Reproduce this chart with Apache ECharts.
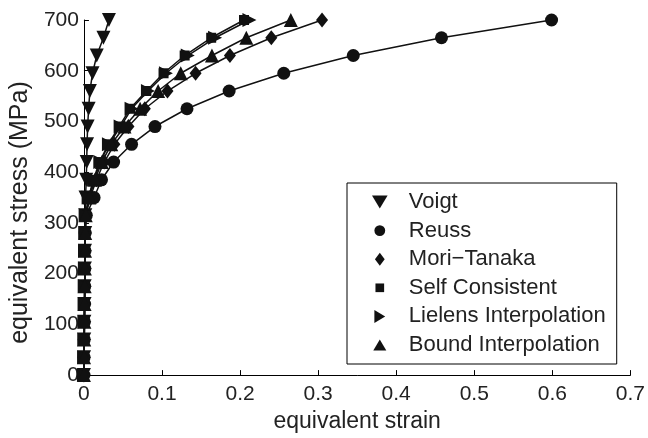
<!DOCTYPE html>
<html>
<head>
<meta charset="utf-8">
<script src="https://cdn.jsdelivr.net/npm/echarts@6/dist/echarts.min.js"></script>
<style>
  html, body { margin: 0; padding: 0; background: #fff; }
  #chart { width: 648px; height: 438px; }
</style>
</head>
<body>
<div id="chart"></div>
<script>
// stress levels (MPa), shared by every model
const stress = [0, 35, 70, 105, 140, 175, 210, 245, 280, 315, 350, 385, 420, 455, 490, 525, 560, 595, 630, 665, 700]

// equivalent strain for each model
const voigt = [0, 0.0002, 0.0004, 0.0006, 0.0008, 0.001, 0.0012, 0.0014, 0.0016, 0.0018, 0.002, 0.003, 0.0035, 0.004, 0.0047, 0.006, 0.0076, 0.011, 0.0164, 0.025, 0.032]
const reuss = [0, 0.0002, 0.0004, 0.0006, 0.0008, 0.001, 0.0012, 0.0014, 0.0016, 0.003, 0.013, 0.0225, 0.038, 0.061, 0.091, 0.132, 0.186, 0.256, 0.345, 0.458, 0.599]
const moriTanaka = [0, 0.0002, 0.0004, 0.0006, 0.0008, 0.001, 0.0012, 0.0014, 0.0016, 0.0025, 0.008, 0.016, 0.026, 0.039, 0.057, 0.078, 0.107, 0.143, 0.187, 0.240, 0.305]
const selfConsistent = [0, 0.0002, 0.0004, 0.0006, 0.0008, 0.001, 0.0012, 0.0014, 0.0016, 0.0022, 0.006, 0.012, 0.020, 0.031, 0.045, 0.059, 0.080, 0.102, 0.129, 0.163, 0.205]
const lielens = [0, 0.0002, 0.0004, 0.0006, 0.0008, 0.001, 0.0012, 0.0014, 0.0016, 0.0022, 0.006, 0.013, 0.021, 0.032, 0.047, 0.061, 0.082, 0.105, 0.133, 0.168, 0.212]
const bound = [0, 0.0002, 0.0004, 0.0006, 0.0008, 0.001, 0.0012, 0.0014, 0.0016, 0.0023, 0.007, 0.014, 0.023, 0.035, 0.052, 0.072, 0.095, 0.124, 0.164, 0.208, 0.265]

const names = ['Voigt', 'Reuss', 'Mori\u2212Tanaka', 'Self Consistent', 'Lielens Interpolation', 'Bound Interpolation']

const ink = '#111'
const font = 'Liberation Sans, Arial, sans-serif'

// glue strain + stress together
const pairs = (strain) => strain.map((x, i) => [x, stress[i]])

function makeSeries(name, strain, symbol, size, rotate) {
  return {
    name: name,
    type: 'line',
    data: pairs(strain),
    symbol: symbol,
    symbolSize: size,
    symbolRotate: rotate || 0,
    showAllSymbol: true,
    color: ink,
    itemStyle: { color: ink, opacity: 1 },
    lineStyle: { color: ink, width: 1.5 },
    emphasis: { disabled: true },
    animation: false
  }
}

const chart = echarts.init(document.getElementById('chart'))

chart.setOption({
  backgroundColor: '#fff',
  animation: false,
  grid: { left: 78, right: 14, top: 20, bottom: 55, containLabel: false },
  xAxis: {
    type: 'value',
    min: 0, max: 0.7, interval: 0.1,
    name: 'equivalent strain',
    nameLocation: 'middle',
    nameGap: 26,
    nameTextStyle: { fontFamily: font, fontSize: 23, color: '#222' },
    axisLine: { show: true, onZero: false, lineStyle: { color: '#000', width: 1 } },
    axisTick: { show: true, inside: true, length: 5, lineStyle: { color: '#000' } },
    axisLabel: { margin: 9, fontFamily: font, fontSize: 21, color: '#222', formatter: v => String(Math.round(v * 10) / 10) },
    splitLine: { show: false }
  },
  yAxis: {
    type: 'value',
    min: 0, max: 700, interval: 100,
    name: 'equivalent stress (MPa)',
    nameLocation: 'middle',
    nameGap: 45,
    // rotated label sits a little low in the original
    nameTextStyle: { fontFamily: font, fontSize: 25, color: '#222', padding: [0, 30, 0, 0] },
    axisLine: { show: true, onZero: false, lineStyle: { color: '#000', width: 1 } },
    axisTick: { show: true, inside: true, length: 5, lineStyle: { color: '#000' } },
    axisLabel: { margin: 5, fontFamily: font, fontSize: 21, color: '#222' },
    splitLine: { show: false }
  },
  legend: {
    orient: 'vertical',
    left: 347,
    top: 183,
    padding: [8, 11, 8, 25],
    itemGap: 6.6,
    itemWidth: 48,
    itemHeight: 13,
    borderColor: '#000',
    borderWidth: 1,
    backgroundColor: '#fff',
    selectedMode: false,
    textStyle: { fontFamily: font, fontSize: 22, color: '#222', lineHeight: 22 },
    data: [
      { name: names[0], icon: 'path://M0,0L12,0L6,10Z' },
      { name: names[1], icon: 'path://M0,0M12,12M6,1A5,5,0,1,1,5.99,1Z' },
      { name: names[2], icon: 'path://M4.5,0L9,6L4.5,12L0,6Z' },
      { name: names[3], icon: 'path://M0,0M12,12M2,2L10,2L10,10L2,10Z' },
      { name: names[4], icon: 'path://M0,0L10,6L0,12Z' },
      { name: names[5], icon: 'path://M0,0M0,12M6,1L12,11L0,11Z' }
    ]
  },
  series: [
    makeSeries(names[0], voigt, 'triangle', 14, 180),
    makeSeries(names[1], reuss, 'circle', 13),
    makeSeries(names[2], moriTanaka, 'diamond', [12, 15]),
    makeSeries(names[3], selfConsistent, 'rect', 10),
    makeSeries(names[4], lielens, 'triangle', 14, -90),
    makeSeries(names[5], bound, 'triangle', 14)
  ]
})

window.addEventListener('resize', () => chart.resize())
</script>
</body>
</html>
